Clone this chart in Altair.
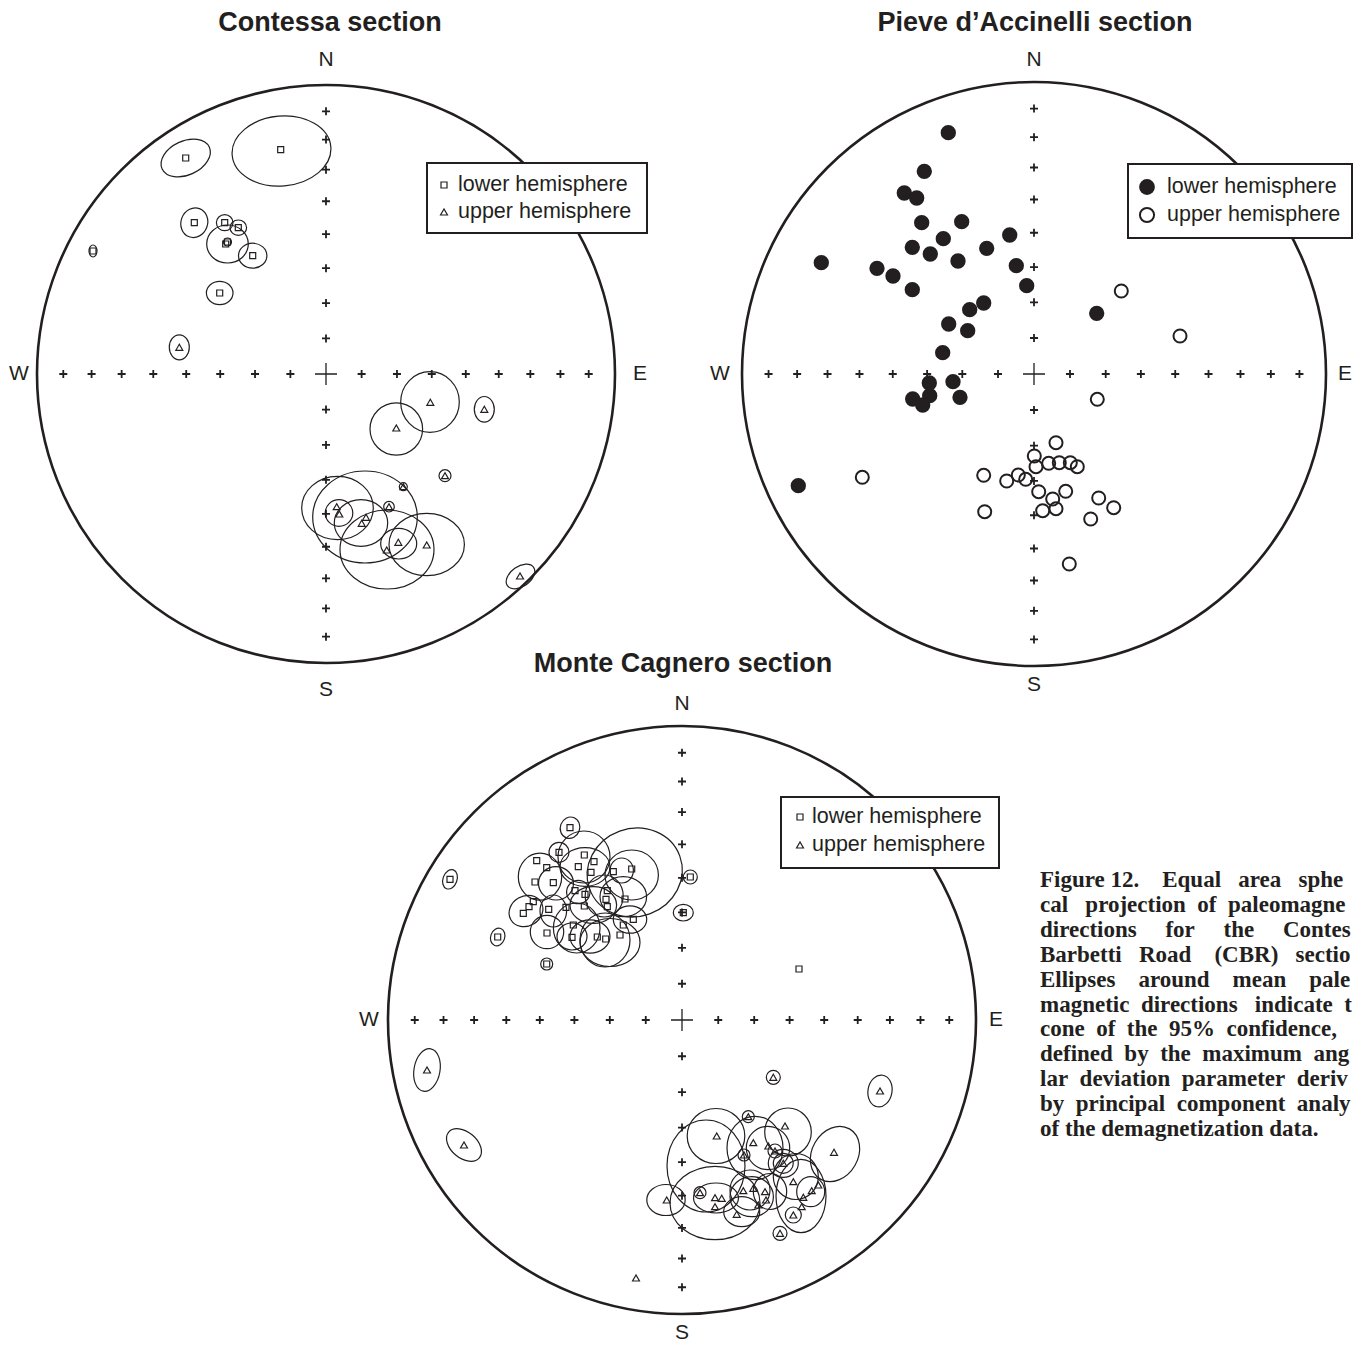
import altair as alt
import pandas as pd
import math

INK = "#231f20"
NB = "\u00a0"

# ---------------- data: projection-plane offsets from each net centre (east, north) ----------------
# units: same as the primitive-circle radius of each net
contessa_lower_x = [-140.3, -45.3, -131.7, -101.3, -87.7, -100.3, -98.5, -73.3, -106.3, -233]
contessa_lower_y = [216, 224.3, 151.3, 151.3, 146.3, 130, 132, 118.3, 81, 123]
contessa_upper_x = [-146.7, 104.3, 70.3, 158.3, 119, 77.3, 63, 10.7, 13.3, 40, 35.7, 60.7, 72.3, 100.7, 194]
contessa_upper_y = [26.7, -28.3, -54, -35.3, -101.7, -112.7, -132.7, -132.7, -140, -143.3, -149.3, -176, -168.3, -171, -202]
# confidence ellipses: [east, north, semi-axis x, semi-axis y, rotation deg]
contessa_cones = [
    [-140.3, 216, 26, 17, 335], [-44.5, 223, 49.5, 35, 355], [-131.7, 151.3, 13.3, 15, 20],
    [-101.3, 151.3, 8.3, 8, 0], [-87.7, 146.3, 8.3, 7.7, 0], [-98.5, 130, 20.8, 19, 0],
    [-98.5, 132, 4, 4, 0], [-73.3, 118.3, 14.2, 12.5, 0], [-106.3, 81, 13.3, 11.7, 0],
    [-233, 123, 4, 6, 0],
    [-146.7, 26.7, 10, 12.5, 0], [104, -28, 29.3, 30.3, 0], [70.3, -55, 26.3, 26.2, 0],
    [158.3, -35.3, 10, 12.8, 0], [119, -101.7, 6, 6, 0], [77.3, -112.7, 4, 4, 0],
    [63, -132.7, 5.3, 5.3, 0], [11.5, -134, 35.8, 31.7, 0], [13, -139, 13.8, 13.3, 0],
    [39, -143, 52.3, 46, 0], [35, -149, 26.7, 23.3, 0], [61, -175.5, 47, 39.5, 0],
    [72.7, -169.7, 18, 15.3, 0], [100.7, -170.5, 37.7, 31.2, 0], [194.5, -202.5, 16, 10, 325],
]

pieve_lower_x = [-85.7, -109.7, -129.7, -117.3, -112.3, -72.3, -90.7, -121.7, -103.7, -76, -47.3, -24.3,
                 -17.7, -7.3, -212.7, -157, -141, -121.7, -50.3, -64.3, -85.3, -66.3, -91.3, -104.7,
                 -81, -121.3, -104.3, -111.3, -74, 62.7, -235.7]
pieve_lower_y = [241.3, 202.7, 181, 176, 151.3, 152.3, 135.3, 126.7, 120, 113, 125.7, 139, 108.3, 88.3,
                 111.3, 105.7, 98, 84.3, 71, 64.3, 50, 43.3, 21.3, -9, -7.7, -25, -21.7, -31, -23.3,
                 60.7, -111.7]
pieve_upper_x = [87.3, 63.3, 146, -171.7, -50.3, -49.3, -27.3, -15.7, -8.3, 0.3, 22, 2, 14.7, 25.3, 36.3,
                 43.3, 4.7, 31.7, 18.7, 8.7, 22, 64.7, 79.7, 56.7, 35.3]
pieve_upper_y = [83, -25.3, 38, -103.3, -101.3, -137.7, -107, -101, -105.3, -82, -68.7, -92.7, -89.3,
                 -88.7, -88.7, -92.7, -117.7, -117.3, -125, -136.7, -134.7, -124, -133.7, -145, -190]

cagnero_lower_x = [-112, -123, -145.3, -135.3, -97.7, -88, -103.7, -91, -68.7, -50.3, -147, -128.7, -107,
                   -97, -74.7, -57, -76, -74.7, -148.7, -153, -158.7, -133.3, -97.7, -116, -58.7, -48.7,
                   -108.7, -135, -110, -84.7, -76.3, -62, -184.3, -135.3, 8.3, 1.3, -232, 117]
cagnero_lower_y = [192.3, 167.7, 159.3, 152.3, 165, 158.3, 153.3, 147.7, 148.3, 151, 138, 137.3, 129.3,
                   125.7, 129.3, 121, 120.7, 113.3, 118.3, 113.3, 106.7, 110.7, 114, 112.7, 95, 100.7,
                   95, 87, 82.7, 83, 81, 85, 83, 56, 143, 107.3, 140.7, 51]
cagnero_upper_x = [91.3, 34.7, 66.3, 71.3, 103, 86.3, 62, 93, 152, 101.3, 111.3, -15.3, 18, 33, 39.7, 33,
                   61.3, 71.3, 83, 84, 76.3, 54.7, 129.7, 121.3, 136.3, 119.7, 111.3, 98, -255, -218,
                   -46, 198]
cagnero_upper_y = [-57.3, -116, -96.7, -122.7, -106, -126, -135, -131, -132.3, -143.3, -161.7, -180,
                   -172.7, -177.7, -178.3, -186.7, -170.7, -168.3, -171.7, -180, -185, -194.3, -170.7,
                   -177.3, -165, -186.7, -195, -213.3, -50, -125, -258, -71]
cagnero_cones = [
    [-112, 192.3, 9.7, 10.8, 20], [-123, 167.7, 10, 10, 0], [-47.3, 147.5, 48, 44, 340],
    [-98, 163, 26, 26, 0], [-50.3, 145, 26.7, 25, 0], [-142, 143.3, 21.7, 23.5, 0],
    [-156, 109, 17.5, 15, 330], [-126, 136.7, 17.5, 16.7, 0], [-97, 153, 25, 19.3, 0],
    [-135, 88, 16.7, 16.7, 0], [-105.3, 92, 23.3, 25, 0], [-72, 77.5, 30, 24, 0],
    [-110, 83.5, 15, 13.5, 0], [-52, 100.5, 16.7, 13.7, 0], [-77.8, 124, 19, 21, 0],
    [-58.7, 123.3, 23.3, 20, 0], [-60.3, 149.5, 11.7, 12.5, 0], [-103.7, 128, 11.7, 11.7, 0],
    [-88.7, 115, 23.3, 18.3, 0], [-128.7, 109, 13.3, 16, 0], [-92, 83.5, 20, 16.7, 0],
    [-77, 80, 25, 27, 0], [-184.3, 83, 7, 9, 20], [-135.3, 56, 6, 6, 0], [8.3, 143, 7, 7, 0],
    [1.3, 107.3, 10, 8.3, 0], [-232, 140.7, 7, 10, 20],
    [91.3, -57.3, 7, 7, 0], [34, -116, 28.8, 27.5, 0], [66.3, -96.7, 6, 6, 0],
    [106, -112, 23.3, 24, 0], [62, -135, 6, 6, 0], [93, -131, 7, 7, 0], [153, -134, 23, 29, 30],
    [101.3, -143.3, 10, 10, 0], [101.3, -143.3, 15, 14, 0], [-16, -180, 19.2, 15.5, 0],
    [18, -172.7, 6, 6, 0], [24, -146, 39, 46, 0], [33, -183, 45, 36.7, 0], [34, -178, 22.5, 15, 0],
    [59.7, -191.7, 18, 15, 0], [68, -170, 20, 20, 0], [73, -128, 28, 31.7, 0], [86, -128, 21.7, 21.7, 0],
    [113.8, -156.5, 22.5, 23, 0], [119, -176, 25, 36.7, 0], [128.7, -171.7, 14, 15, 0],
    [88, -171.5, 16.7, 18, 0], [69.7, -176.7, 21.7, 20, 0], [111.3, -195, 8, 8, 0], [98, -213.3, 7, 7, 0],
    [-255, -50, 13, 21.5, 10], [-218, -125, 20, 13, 40], [198, -71, 12, 16, 10],
]

TICK_PLUNGES = [10, 20, 30, 40, 50, 60, 70, 80]
LEGEND_LABELS = ["lower hemisphere", "upper hemisphere"]

# caption text as visible in the (cropped) figure; gap widths give the justified look
CAPTION_WORDS = [
    (["Figure", "12.", "Equal", "area", "sphe"], [1, 4, 3, 3]),
    (["cal", "projection", "of", "paleomagne"], [3, 2, 2]),
    (["directions", "for", "the", "Contes"], [5, 5, 5]),
    (["Barbetti", "Road", "(CBR)", "sectio"], [3, 4, 3]),
    (["Ellipses", "around", "mean", "pale"], [4, 4, 4]),
    (["magnetic", "directions", "indicate", "t"], [2, 3, 2]),
    (["cone", "of", "the", "95%", "confidence,"], [2, 2, 2, 2]),
    (["defined", "by", "the", "maximum", "ang"], [2, 2, 2, 2]),
    (["lar", "deviation", "parameter", "deriv"], [2, 2, 2]),
    (["by", "principal", "component", "analy"], [2, 2, 2]),
    (["of", "the", "demagnetization", "data."], [1, 1, 1]),
]


def justified(words, gaps):
    out = words[0]
    for w, g in zip(words[1:], gaps):
        out += NB * g + w
    return out


CAPTION = [justified(w, g) for w, g in CAPTION_WORDS]

# ---------------- layout (page pixels) ----------------
NETS = {
    "contessa": dict(cx=326, cy=374, r=289, title="Contessa section", tx=330, ty=23,
                     lab=(25, 27, 18, 25), box=(427, 163, 647, 233), sym_x=444, txt_x=458,
                     rows=(185, 212), style="open"),
    "pieve": dict(cx=1034, cy=374, r=292, title="Pieve d\u2019Accinelli section", tx=1035, ty=23,
                  lab=(22, 19, 22, 19), box=(1128, 164, 1352, 238), sym_x=1147, txt_x=1167,
                  rows=(187, 215), style="dots"),
    "cagnero": dict(cx=682, cy=1020, r=294, title="Monte Cagnero section", tx=683, ty=664,
                    lab=(22, 19, 19, 20), box=(781, 797, 999, 868), sym_x=800, txt_x=812,
                    rows=(817, 845), style="open"),
}
CAP_X, CAP_Y0, CAP_DY = 1040, 887, 24.9

W, H = 1345, 1337
XS = alt.Scale(domain=[8, 8 + W], range=[0, W], nice=False, zero=False)
YS = alt.Scale(domain=[8, 8 + H], range=[0, H], nice=False, zero=False)


def enc(ch):
    return ch.encode(x=alt.X("x:Q", scale=XS, axis=None), y=alt.Y("y:Q", scale=YS, axis=None))


def to_page(net, xs, ys):
    n = NETS[net]
    return pd.DataFrame({"x": [n["cx"] + v for v in xs], "y": [n["cy"] - v for v in ys]})


def cones_df(net, cones):
    n = NETS[net]
    rows = []
    for e, nn, rx, ry, rot in cones:
        k = ry / rx
        path = f"M -1 0 A 1 {k:.4f} 0 1 1 1 0 A 1 {k:.4f} 0 1 1 -1 0 Z"
        rows.append(dict(x=n["cx"] + e, y=n["cy"] - nn, path=path, size=(2 * rx) ** 2, rot=rot))
    return pd.DataFrame(rows)


layers = []

# primitive circles
circ = pd.DataFrame([dict(x=n["cx"], y=n["cy"], size=(2 * n["r"]) ** 2) for n in NETS.values()])
layers.append(enc(alt.Chart(circ).mark_point(shape="circle", filled=False, color=INK, strokeWidth=2.6,
                                              opacity=1)).encode(size=alt.Size("size:Q", scale=None)))

# grid crosses along the N-S and E-W diameters (equal-area projection of plunge ticks)
rows = []
for n in NETS.values():
    for p in TICK_PLUNGES:
        d = n["r"] * math.sqrt(2) * math.sin(math.radians((90 - p) / 2))
        for dx, dy in [(1, 0), (-1, 0), (0, 1), (0, -1)]:
            rows.append(dict(x=n["cx"] + dx * d, y=n["cy"] + dy * d))
layers.append(enc(alt.Chart(pd.DataFrame(rows)).mark_point(
    shape="M -1 0 L 1 0 M 0 -1 L 0 1", size=64, filled=False, color=INK, strokeWidth=1.8, opacity=1)))
layers.append(enc(alt.Chart(pd.DataFrame([dict(x=n["cx"], y=n["cy"]) for n in NETS.values()])).mark_point(
    shape="M -1 0 L 1 0 M 0 -1 L 0 1", size=484, filled=False, color=INK, strokeWidth=1.3, opacity=1)))

# confidence ellipses
cones = pd.concat([cones_df("contessa", contessa_cones), cones_df("cagnero", cagnero_cones)])
layers.append(enc(alt.Chart(cones).mark_point(filled=False, color=INK, strokeWidth=1.2, opacity=1)).encode(
    shape=alt.Shape("path:N", scale=None, legend=None),
    size=alt.Size("size:Q", scale=None),
    angle=alt.Angle("rot:Q", scale=None)))

# data symbols
squares = pd.concat([to_page("contessa", contessa_lower_x, contessa_lower_y),
                     to_page("cagnero", cagnero_lower_x, cagnero_lower_y)])
triangles = pd.concat([to_page("contessa", contessa_upper_x, contessa_upper_y),
                       to_page("cagnero", cagnero_upper_x, cagnero_upper_y)])
SQ = dict(shape="square", filled=False, color=INK, size=36, strokeWidth=1.2, opacity=1)
TR = dict(shape="triangle-up", filled=False, color=INK, size=48, strokeWidth=1.2, opacity=1)
DOT = dict(shape="circle", filled=True, color=INK, size=235, opacity=1)
RING = dict(shape="circle", filled=False, color=INK, size=170, strokeWidth=2, opacity=1)
layers.append(enc(alt.Chart(squares).mark_point(**SQ)))
layers.append(enc(alt.Chart(triangles).mark_point(**TR)))
layers.append(enc(alt.Chart(to_page("pieve", pieve_lower_x, pieve_lower_y)).mark_point(**DOT)))
layers.append(enc(alt.Chart(to_page("pieve", pieve_upper_x, pieve_upper_y)).mark_point(**RING)))

# legend boxes
boxes = pd.DataFrame([dict(x=n["box"][0], y=n["box"][1], x2=n["box"][2], y2=n["box"][3])
                      for n in NETS.values()])
layers.append(alt.Chart(boxes).mark_rect(fill="white", stroke=INK, strokeWidth=2).encode(
    x=alt.X("x:Q", scale=XS, axis=None), x2="x2:Q",
    y=alt.Y("y:Q", scale=YS, axis=None), y2="y2:Q"))

leg_lo_open, leg_up_open, leg_dot, leg_ring, leg_text = [], [], [], [], []
for n in NETS.values():
    if n["style"] == "open":
        leg_lo_open.append(dict(x=n["sym_x"], y=n["rows"][0]))
        leg_up_open.append(dict(x=n["sym_x"], y=n["rows"][1]))
    else:
        leg_dot.append(dict(x=n["sym_x"], y=n["rows"][0]))
        leg_ring.append(dict(x=n["sym_x"], y=n["rows"][1]))
    for lab, yy in zip(LEGEND_LABELS, n["rows"]):
        leg_text.append(dict(x=n["txt_x"], y=yy, text=lab))
layers.append(enc(alt.Chart(pd.DataFrame(leg_lo_open)).mark_point(**SQ)))
layers.append(enc(alt.Chart(pd.DataFrame(leg_up_open)).mark_point(**TR)))
layers.append(enc(alt.Chart(pd.DataFrame(leg_dot)).mark_point(**{**DOT, "size": 250})))
layers.append(enc(alt.Chart(pd.DataFrame(leg_ring)).mark_point(**{**RING, "size": 200})))
layers.append(enc(alt.Chart(pd.DataFrame(leg_text)).mark_text(
    font="Liberation Sans", fontSize=21.5, color=INK, align="left", baseline="middle")).encode(text="text:N"))

# titles and compass labels
titles = pd.DataFrame([dict(x=n["tx"], y=n["ty"], text=n["title"]) for n in NETS.values()])
layers.append(enc(alt.Chart(titles).mark_text(
    font="Liberation Sans", fontSize=27, fontWeight="bold", color=INK, align="center",
    baseline="middle")).encode(text="text:N"))
comp = []
for n in NETS.values():
    on, os_, ow, oe = n["lab"]
    comp += [dict(x=n["cx"], y=n["cy"] - n["r"] - on, text="N"),
             dict(x=n["cx"], y=n["cy"] + n["r"] + os_, text="S"),
             dict(x=n["cx"] - n["r"] - ow, y=n["cy"], text="W"),
             dict(x=n["cx"] + n["r"] + oe, y=n["cy"], text="E")]
layers.append(enc(alt.Chart(pd.DataFrame(comp)).mark_text(
    font="Liberation Sans", fontSize=21, color=INK, align="center", baseline="middle")).encode(text="text:N"))

# caption
cap = pd.DataFrame([dict(x=CAP_X, y=CAP_Y0 + i * CAP_DY, text=t) for i, t in enumerate(CAPTION)])
layers.append(enc(alt.Chart(cap).mark_text(
    font="Liberation Serif", fontSize=23, fontWeight="bold", color=INK, align="left",
    baseline="alphabetic")).encode(text="text:N"))

chart = alt.layer(*layers).properties(
    width=W, height=H, padding=0, autosize=alt.AutoSizeParams(type="none")
).configure_view(stroke=None)

chart.save("out.html", embed_options={"renderer": "svg", "actions": False})
